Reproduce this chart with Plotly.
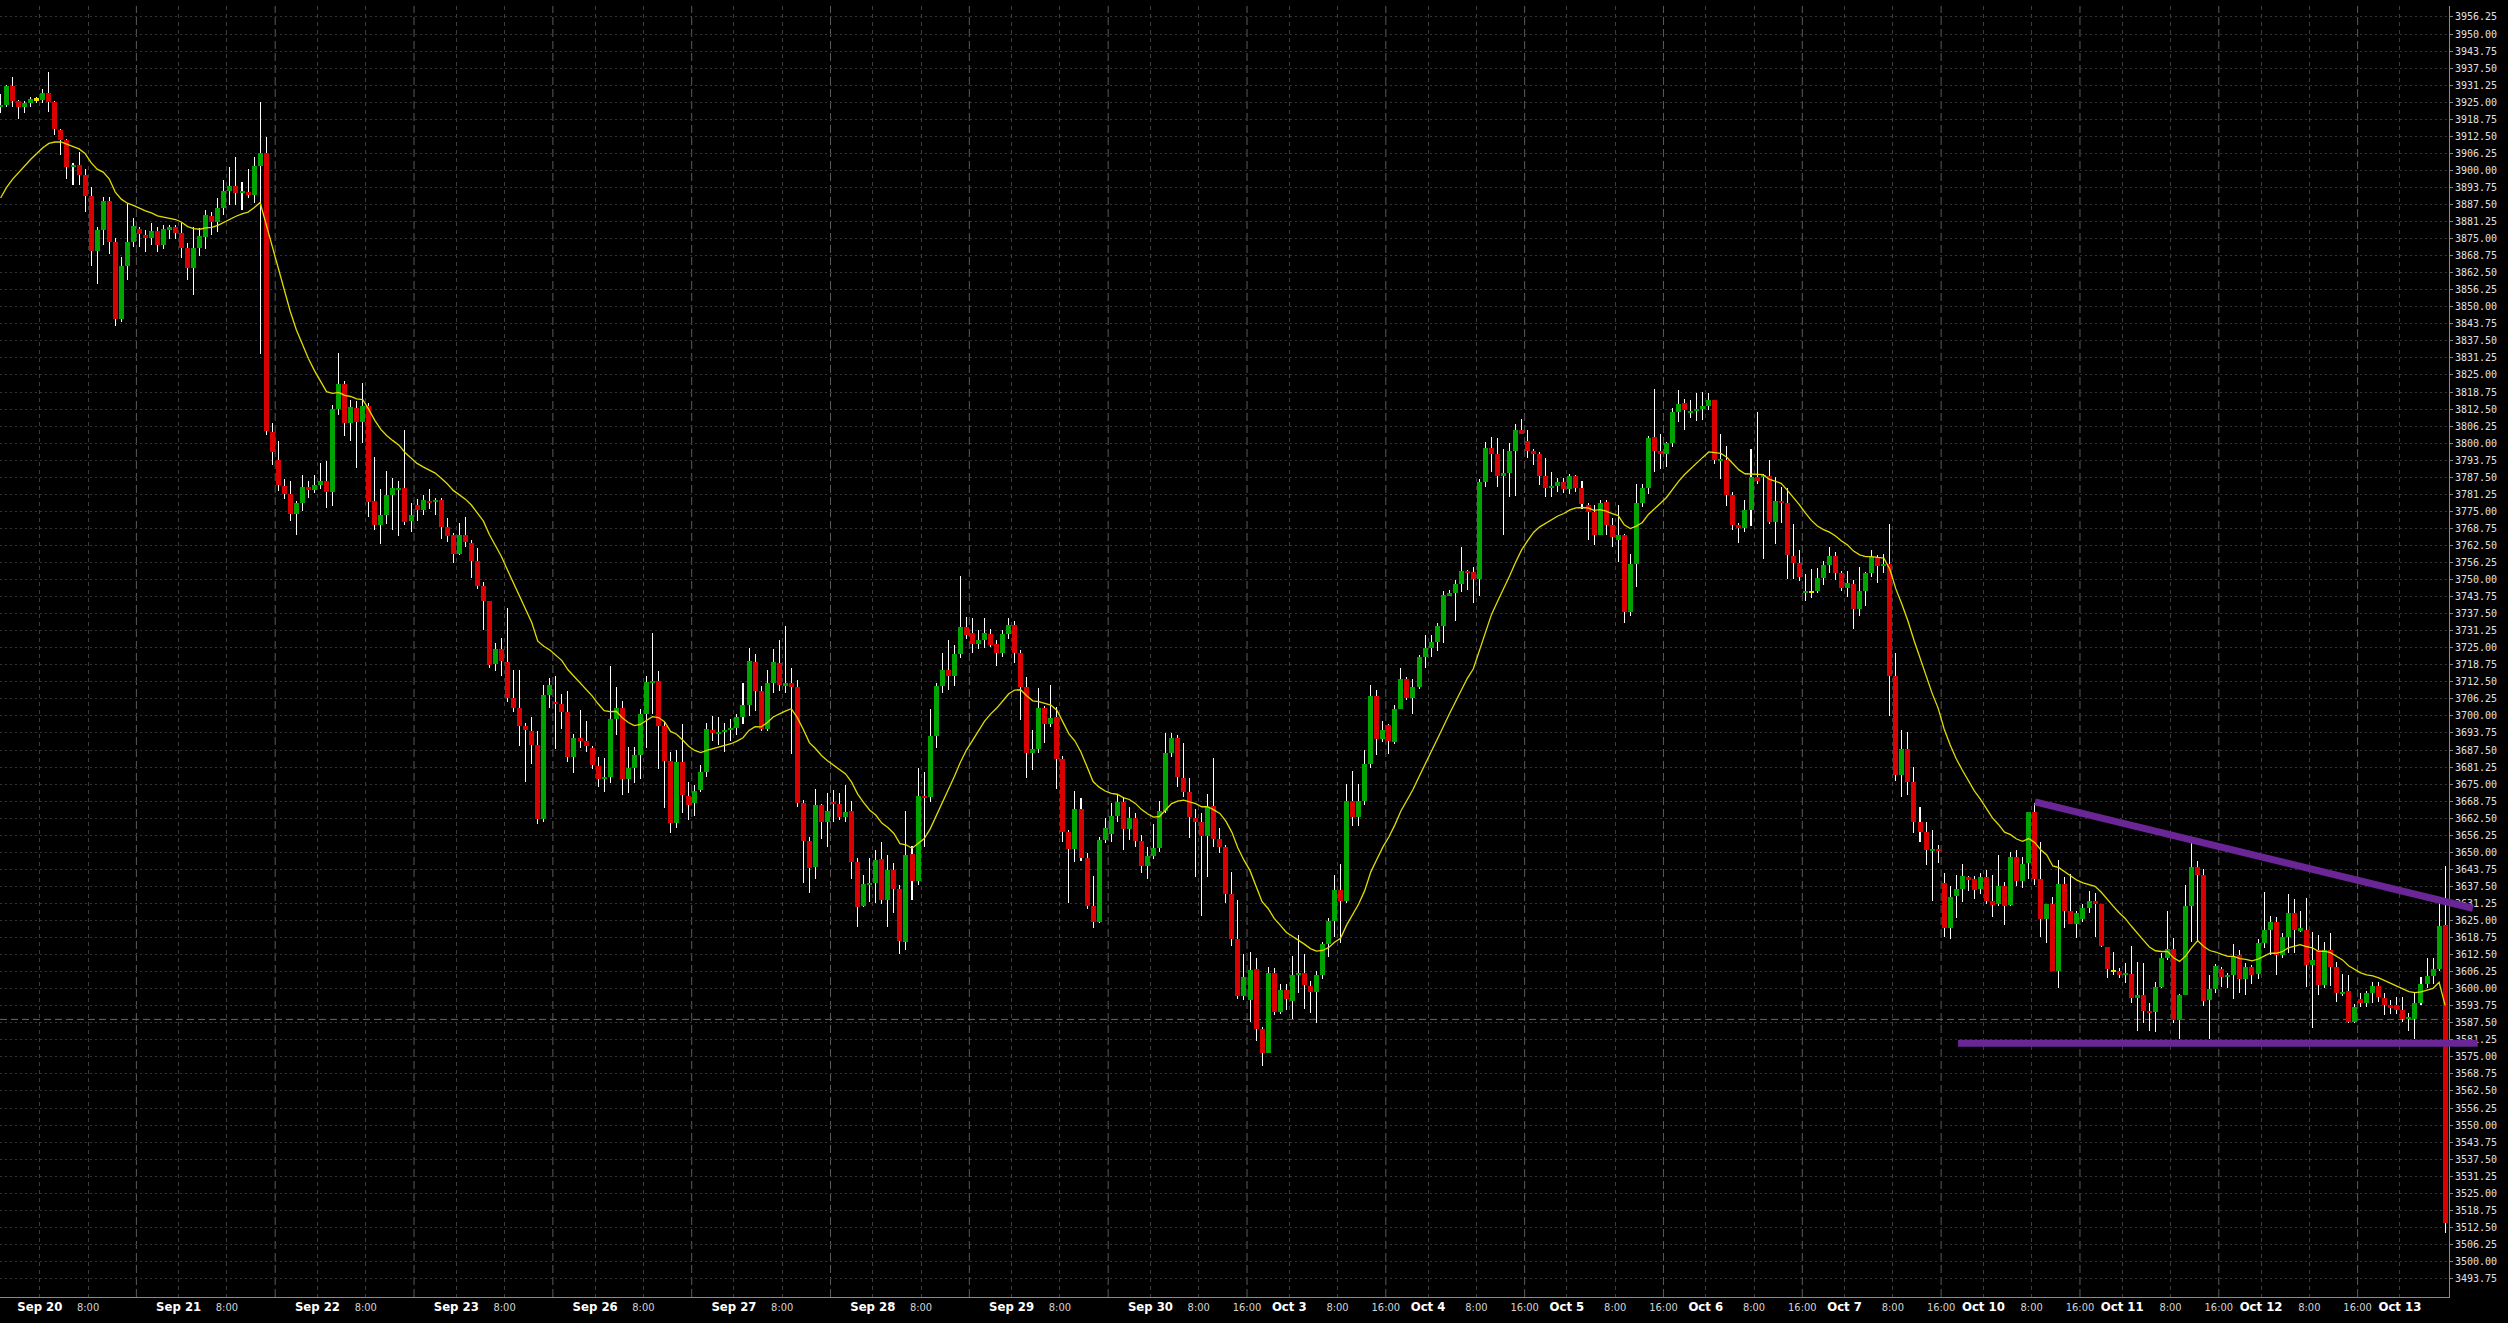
import plotly.graph_objects as go

# ---------------- data (hourly bars) ----------------
days = ['Sep 20', 'Sep 21', 'Sep 22', 'Sep 23', 'Sep 26', 'Sep 27', 'Sep 28', 'Sep 29', 'Sep 30',
        'Oct 3', 'Oct 4', 'Oct 5', 'Oct 6', 'Oct 7', 'Oct 10', 'Oct 11', 'Oct 12', 'Oct 13']
days_with_16h_label = days[8:]

opens = [
    3923.1, 3924.0, 3930.9, 3925.4, 3923.4, 3924.8, 3926.1, 3925.8, 3928.3, 3925.2,
    3914.8, 3911.2, 3901.4, 3902.0, 3898.3, 3890.7, 3870.4, 3878.1, 3888.8, 3873.9,
    3845.6, 3864.9, 3873.9, 3878.4, 3876.3, 3875.3, 3877.8, 3872.7, 3878.5, 3879.2,
    3877.1, 3871.7, 3864.3, 3871.7, 3875.7, 3883.4, 3881.2, 3886.3, 3892.5, 3894.3,
    3891.8, 3892.2, 3891.0, 3901.6, 3906.3, 3804.1, 3793.8, 3784.3, 3781.4, 3774.0,
    3778.0, 3784.0, 3783.0, 3784.5, 3786.3, 3782.2, 3812.4, 3821.7, 3807.4, 3813.0,
    3807.8, 3813.6, 3778.7, 3770.0, 3773.6, 3781.0, 3783.0, 3783.6, 3771.5, 3777.3,
    3775.4, 3778.9, 3778.5, 3779.1, 3769.2, 3766.5, 3759.4, 3766.5, 3763.4, 3756.8,
    3747.7, 3742.1, 3719.0, 3724.7, 3719.8, 3706.4, 3702.9, 3696.2, 3694.6, 3689.3,
    3662.4, 3707.6, 3705.1, 3704.4, 3701.4, 3685.0, 3691.8, 3690.8, 3688.4, 3681.6,
    3676.9, 3677.5, 3698.8, 3702.8, 3676.9, 3680.8, 3685.7, 3700.7, 3712.4, 3712.8,
    3696.4, 3683.5, 3660.6, 3683.2, 3670.8, 3668.2, 3672.8, 3679.6, 3694.8, 3693.6,
    3694.2, 3694.8, 3695.7, 3699.7, 3704.0, 3719.9, 3709.1, 3695.1, 3712.2, 3719.3,
    3711.3, 3711.9, 3710.5, 3668.2, 3654.1, 3644.7, 3667.3, 3661.2, 3668.5, 3667.9,
    3663.1, 3665.1, 3646.6, 3630.4, 3638.2, 3638.8, 3647.5, 3632.5, 3643.5, 3636.4,
    3617.2, 3649.3, 3639.6, 3670.6, 3670.4, 3692.6, 3711.0, 3716.8, 3714.6, 3722.7,
    3732.7, 3730.3, 3726.4, 3727.8, 3730.0, 3726.4, 3722.9, 3730.0, 3733.3, 3723.2,
    3710.7, 3686.3, 3687.9, 3703.0, 3696.9, 3699.5, 3684.2, 3657.6, 3651.2, 3665.9,
    3648.0, 3630.4, 3624.6, 3654.5, 3656.7, 3663.4, 3668.3, 3658.5, 3662.7, 3654.3,
    3645.0, 3648.6, 3651.7, 3665.1, 3686.3, 3691.8, 3677.1, 3672.2, 3662.7, 3661.2,
    3656.1, 3667.0, 3654.9, 3651.8, 3634.7, 3618.2, 3597.3, 3596.0, 3607.1, 3585.1,
    3576.5, 3605.6, 3591.3, 3599.5, 3595.6, 3605.2, 3605.6, 3601.1, 3598.9, 3605.0,
    3616.4, 3624.8, 3636.3, 3632.2, 3668.8, 3663.1, 3668.8, 3682.4, 3707.3, 3691.4,
    3696.6, 3690.6, 3702.4, 3713.5, 3706.6, 3710.6, 3721.7, 3724.9, 3727.1, 3732.8,
    3744.3, 3744.9, 3748.4, 3753.1, 3752.8, 3750.3, 3785.9, 3798.3, 3796.2, 3788.0,
    3789.1, 3797.0, 3804.8, 3800.7, 3797.0, 3796.2, 3788.0, 3783.4, 3784.4, 3785.9,
    3783.1, 3788.0, 3783.4, 3777.3, 3774.9, 3766.4, 3778.5, 3769.9, 3764.4, 3766.4,
    3738.1, 3755.6, 3778.2, 3783.6, 3802.2, 3797.0, 3796.2, 3799.9, 3811.4, 3814.6,
    3811.4, 3812.0, 3812.5, 3813.8, 3815.8, 3793.7, 3793.7, 3780.9, 3770.0, 3768.8,
    3775.4, 3787.5, 3787.5, 3788.0, 3771.1, 3778.7, 3778.2, 3758.8, 3756.2, 3745.4,
    3745.6, 3745.8, 3750.4, 3755.3, 3758.6, 3752.5, 3747.0, 3748.4, 3739.2, 3745.8,
    3752.5, 3758.1, 3755.1, 3755.7, 3714.8, 3678.3, 3687.7, 3675.9, 3661.2, 3657.6,
    3650.6, 3651.1, 3638.6, 3622.4, 3633.9, 3636.4, 3640.8, 3640.1, 3636.4, 3640.8,
    3632.1, 3630.9, 3637.6, 3630.7, 3648.2, 3639.6, 3646.2, 3664.9, 3640.1, 3625.4,
    3631.0, 3606.5, 3638.4, 3628.5, 3623.7, 3625.4, 3629.7, 3632.3, 3631.0, 3615.4,
    3606.6, 3606.6, 3605.0, 3605.4, 3596.5, 3597.7, 3591.9, 3591.5, 3600.7, 3611.1,
    3614.4, 3588.5, 3597.7, 3630.3, 3644.5, 3641.7, 3595.9, 3599.8, 3607.2, 3604.4,
    3605.0, 3612.3, 3603.4, 3607.8, 3605.4, 3616.9, 3621.5, 3624.6, 3612.3, 3619.1,
    3627.9, 3621.5, 3621.7, 3608.7, 3614.2, 3601.3, 3614.2, 3607.8, 3598.3, 3599.3,
    3587.9, 3596.2, 3594.9, 3598.3, 3601.0, 3596.5, 3594.0, 3594.0, 3592.2, 3589.1,
    3588.8, 3594.9, 3601.9, 3604.6, 3607.4, 3623.4,
]

highs = [
    3928.0, 3931.5, 3934.1, 3925.9, 3925.4, 3927.0, 3927.0, 3929.7, 3936.0, 3925.6,
    3915.2, 3911.6, 3902.6, 3906.6, 3900.5, 3894.0, 3879.4, 3890.4, 3890.4, 3875.1,
    3868.4, 3887.7, 3882.4, 3879.4, 3878.1, 3880.6, 3879.4, 3880.0, 3880.0, 3880.0,
    3880.6, 3873.3, 3879.4, 3878.8, 3885.5, 3884.9, 3890.0, 3896.5, 3901.4, 3904.8,
    3895.9, 3900.5, 3905.0, 3925.2, 3912.3, 3807.4, 3800.8, 3787.0, 3786.1, 3778.9,
    3788.2, 3786.0, 3788.2, 3792.8, 3793.4, 3814.0, 3833.1, 3822.9, 3815.7, 3815.5,
    3822.0, 3814.8, 3794.8, 3783.2, 3789.7, 3787.2, 3786.0, 3804.7, 3778.0, 3779.5,
    3781.0, 3783.2, 3779.8, 3779.8, 3772.7, 3767.1, 3770.8, 3773.0, 3764.4, 3761.5,
    3749.2, 3742.1, 3726.8, 3728.7, 3739.6, 3716.9, 3716.9, 3697.5, 3699.6, 3694.6,
    3711.3, 3713.8, 3714.8, 3707.9, 3709.1, 3693.4, 3702.1, 3698.1, 3689.0, 3685.1,
    3684.7, 3718.3, 3710.7, 3705.5, 3688.5, 3688.5, 3702.5, 3714.6, 3730.3, 3716.5,
    3697.9, 3686.9, 3687.5, 3697.0, 3675.9, 3674.7, 3682.0, 3697.5, 3700.1, 3699.7,
    3697.5, 3698.8, 3700.7, 3712.2, 3725.0, 3722.7, 3711.0, 3716.8, 3724.4, 3727.8,
    3733.0, 3717.4, 3713.2, 3669.2, 3655.7, 3673.2, 3667.9, 3671.6, 3672.8, 3671.6,
    3674.7, 3668.8, 3647.8, 3641.7, 3648.0, 3650.8, 3653.9, 3649.0, 3646.0, 3638.0,
    3665.3, 3652.3, 3680.8, 3679.6, 3702.5, 3712.2, 3722.9, 3727.8, 3726.0, 3751.3,
    3736.4, 3735.8, 3731.5, 3735.8, 3731.7, 3727.8, 3731.5, 3735.8, 3734.8, 3724.2,
    3714.1, 3694.8, 3710.1, 3703.6, 3711.3, 3703.4, 3685.3, 3658.2, 3672.5, 3669.8,
    3649.6, 3641.3, 3655.7, 3662.5, 3668.0, 3671.0, 3670.4, 3666.7, 3664.3, 3656.3,
    3652.1, 3660.4, 3668.9, 3693.9, 3693.9, 3693.0, 3689.9, 3677.1, 3665.8, 3664.3,
    3671.3, 3684.4, 3658.8, 3652.7, 3642.9, 3632.5, 3612.9, 3613.6, 3611.1, 3586.1,
    3607.8, 3607.5, 3601.9, 3601.7, 3612.0, 3619.7, 3612.9, 3602.9, 3606.6, 3617.2,
    3625.9, 3641.8, 3645.6, 3675.0, 3679.9, 3675.0, 3687.6, 3711.5, 3709.4, 3698.0,
    3697.1, 3704.0, 3717.6, 3714.3, 3713.5, 3722.5, 3729.5, 3729.5, 3734.0, 3745.9,
    3746.2, 3749.8, 3761.8, 3753.6, 3754.7, 3786.8, 3800.3, 3802.2, 3801.9, 3797.8,
    3799.9, 3807.1, 3808.8, 3804.8, 3797.8, 3796.6, 3794.5, 3789.3, 3787.2, 3787.2,
    3788.8, 3788.5, 3786.3, 3778.2, 3777.3, 3779.3, 3779.3, 3772.4, 3777.3, 3766.7,
    3759.3, 3785.2, 3785.2, 3802.7, 3819.9, 3803.5, 3800.6, 3813.0, 3819.6, 3816.3,
    3815.8, 3818.3, 3818.6, 3818.3, 3815.8, 3803.5, 3798.9, 3782.2, 3770.8, 3779.0,
    3797.8, 3811.4, 3788.8, 3793.7, 3787.5, 3783.9, 3783.6, 3770.5, 3761.0, 3752.0,
    3753.7, 3754.1, 3756.9, 3762.0, 3760.2, 3753.3, 3753.3, 3749.8, 3754.7, 3752.9,
    3760.8, 3759.0, 3759.4, 3770.4, 3723.2, 3694.8, 3694.2, 3681.4, 3666.7, 3661.2,
    3658.2, 3652.7, 3642.3, 3637.6, 3641.7, 3645.7, 3641.3, 3641.3, 3642.5, 3643.7,
    3641.7, 3649.0, 3639.2, 3650.2, 3650.8, 3648.2, 3664.9, 3668.2, 3653.9, 3631.0,
    3633.5, 3647.2, 3641.1, 3642.0, 3628.6, 3631.0, 3635.9, 3635.0, 3631.0, 3615.4,
    3613.6, 3607.5, 3609.5, 3615.6, 3609.9, 3609.5, 3594.6, 3602.6, 3613.0, 3628.6,
    3618.5, 3598.0, 3638.0, 3653.3, 3646.9, 3643.8, 3605.0, 3609.0, 3607.8, 3605.6,
    3616.4, 3614.2, 3609.5, 3608.7, 3618.1, 3635.5, 3626.6, 3626.4, 3620.3, 3634.7,
    3632.8, 3628.6, 3633.1, 3620.9, 3619.7, 3617.2, 3620.3, 3609.9, 3605.4, 3605.0,
    3594.4, 3598.3, 3599.1, 3602.6, 3602.6, 3598.3, 3595.9, 3596.8, 3597.1, 3591.0,
    3598.3, 3604.4, 3611.1, 3611.1, 3631.3, 3645.0,
]

lows = [
    3921.2, 3923.1, 3923.1, 3918.9, 3920.9, 3923.1, 3924.6, 3924.8, 3921.5, 3913.0,
    3905.6, 3896.9, 3894.6, 3894.6, 3884.6, 3865.0, 3858.4, 3872.7, 3869.4, 3843.0,
    3844.5, 3859.8, 3872.0, 3872.0, 3870.0, 3872.7, 3870.2, 3871.2, 3874.9, 3874.9,
    3868.0, 3859.8, 3854.3, 3868.7, 3871.2, 3876.3, 3877.5, 3883.7, 3887.3, 3887.3,
    3885.5, 3889.8, 3887.9, 3832.7, 3803.0, 3791.9, 3782.6, 3779.5, 3771.5, 3766.5,
    3775.2, 3779.9, 3781.6, 3783.2, 3776.2, 3777.0, 3810.5, 3802.5, 3800.8, 3790.9,
    3800.0, 3773.0, 3768.1, 3763.0, 3770.2, 3768.1, 3766.1, 3770.0, 3767.5, 3771.5,
    3773.7, 3775.8, 3773.6, 3764.7, 3763.7, 3756.2, 3759.1, 3761.9, 3750.4, 3746.7,
    3731.4, 3717.5, 3716.5, 3714.8, 3705.1, 3701.4, 3689.0, 3675.8, 3682.5, 3660.3,
    3661.1, 3703.0, 3687.8, 3695.2, 3683.1, 3679.1, 3688.4, 3686.6, 3680.4, 3673.9,
    3672.2, 3675.5, 3693.0, 3671.0, 3671.6, 3675.5, 3676.9, 3688.1, 3700.6, 3680.5,
    3666.1, 3657.2, 3659.0, 3664.3, 3661.8, 3663.4, 3672.0, 3677.7, 3690.8, 3689.3,
    3686.9, 3690.8, 3693.0, 3697.0, 3700.0, 3701.9, 3694.6, 3694.5, 3708.3, 3709.3,
    3708.3, 3686.0, 3666.7, 3638.6, 3635.2, 3640.1, 3654.9, 3652.1, 3661.2, 3661.8,
    3661.2, 3640.1, 3622.7, 3630.1, 3631.9, 3631.5, 3631.0, 3622.7, 3627.9, 3612.7,
    3614.2, 3632.5, 3638.0, 3652.1, 3668.6, 3688.4, 3708.5, 3709.5, 3711.0, 3721.1,
    3728.2, 3723.2, 3724.4, 3724.8, 3725.2, 3718.3, 3721.7, 3728.1, 3719.3, 3698.5,
    3677.1, 3680.2, 3686.3, 3690.2, 3696.1, 3673.2, 3653.9, 3631.3, 3646.6, 3646.8,
    3629.4, 3622.1, 3624.0, 3653.3, 3653.9, 3661.2, 3650.8, 3654.5, 3651.8, 3642.5,
    3640.1, 3647.6, 3650.2, 3664.5, 3685.1, 3674.1, 3670.2, 3655.4, 3640.8, 3626.6,
    3640.8, 3652.1, 3649.6, 3631.3, 3615.6, 3596.1, 3595.9, 3587.9, 3580.9, 3571.6,
    3576.3, 3590.3, 3590.7, 3592.2, 3588.8, 3598.3, 3592.4, 3591.0, 3587.3, 3603.4,
    3611.7, 3618.9, 3616.9, 3631.3, 3659.5, 3659.5, 3667.4, 3681.0, 3685.7, 3690.3,
    3686.0, 3689.8, 3702.4, 3705.7, 3700.7, 3709.9, 3717.6, 3721.7, 3723.7, 3726.9,
    3743.8, 3734.8, 3745.4, 3746.2, 3741.3, 3744.1, 3783.9, 3789.6, 3783.9, 3766.2,
    3780.3, 3780.6, 3803.2, 3794.5, 3792.1, 3784.7, 3780.1, 3780.3, 3782.2, 3781.9,
    3781.4, 3782.2, 3776.0, 3764.6, 3762.6, 3766.2, 3766.2, 3761.8, 3756.4, 3733.9,
    3736.7, 3747.1, 3776.5, 3781.4, 3789.6, 3790.4, 3791.2, 3798.6, 3807.6, 3804.8,
    3809.3, 3808.1, 3808.4, 3812.0, 3792.4, 3786.8, 3777.0, 3768.3, 3763.4, 3767.5,
    3769.5, 3785.0, 3757.7, 3770.5, 3762.9, 3770.8, 3750.3, 3750.3, 3749.6, 3742.3,
    3743.1, 3744.9, 3748.0, 3752.5, 3749.8, 3745.9, 3743.7, 3731.9, 3736.8, 3740.3,
    3750.8, 3748.8, 3752.3, 3699.9, 3676.2, 3670.4, 3671.0, 3657.2, 3653.9, 3645.3,
    3632.3, 3646.2, 3619.1, 3618.1, 3626.0, 3631.9, 3635.9, 3632.9, 3634.9, 3630.9,
    3626.4, 3630.3, 3623.3, 3630.3, 3637.6, 3636.8, 3640.1, 3638.0, 3619.1, 3616.6,
    3606.5, 3600.1, 3622.1, 3623.7, 3618.5, 3624.5, 3627.9, 3619.1, 3615.4, 3603.8,
    3605.0, 3603.8, 3602.0, 3594.9, 3584.6, 3587.3, 3584.6, 3584.2, 3600.1, 3610.5,
    3587.3, 3581.4, 3597.7, 3617.2, 3617.6, 3593.6, 3581.4, 3598.3, 3600.7, 3600.1,
    3596.1, 3598.3, 3597.7, 3601.9, 3603.4, 3614.8, 3612.3, 3605.0, 3611.1, 3613.0,
    3613.0, 3620.9, 3600.7, 3585.5, 3597.7, 3600.1, 3601.0, 3595.2, 3597.3, 3587.3,
    3587.3, 3593.2, 3593.4, 3594.6, 3595.2, 3590.4, 3590.9, 3590.9, 3587.9, 3584.6,
    3581.4, 3594.0, 3600.1, 3601.7, 3606.6, 3510.4,
]

closes = [
    3924.0, 3930.9, 3925.4, 3923.4, 3924.8, 3926.2, 3926.1, 3928.3, 3925.2, 3915.2,
    3911.2, 3901.4, 3902.0, 3898.3, 3890.7, 3870.4, 3878.1, 3888.8, 3873.9, 3845.6,
    3864.9, 3873.9, 3879.6, 3876.7, 3875.3, 3877.8, 3872.7, 3878.4, 3879.2, 3877.1,
    3871.7, 3864.3, 3871.7, 3876.0, 3883.6, 3881.2, 3886.3, 3892.5, 3894.3, 3891.8,
    3892.4, 3891.0, 3901.6, 3906.3, 3804.3, 3796.9, 3784.5, 3781.4, 3774.2, 3778.0,
    3784.0, 3783.0, 3784.5, 3786.0, 3782.2, 3812.4, 3821.7, 3807.4, 3813.2, 3807.8,
    3813.6, 3778.3, 3770.0, 3773.6, 3781.0, 3783.6, 3783.6, 3771.2, 3773.6, 3775.4,
    3779.1, 3778.3, 3779.1, 3769.2, 3766.1, 3759.4, 3766.5, 3763.7, 3756.8, 3747.7,
    3742.1, 3718.8, 3724.6, 3720.0, 3706.4, 3702.9, 3696.2, 3694.9, 3689.3, 3662.4,
    3707.6, 3711.3, 3704.4, 3701.4, 3685.0, 3691.8, 3690.8, 3688.8, 3681.9, 3676.9,
    3677.6, 3698.8, 3702.8, 3676.9, 3680.8, 3685.7, 3700.7, 3712.4, 3712.8, 3696.4,
    3683.5, 3660.6, 3683.2, 3671.0, 3667.3, 3672.6, 3679.6, 3695.2, 3693.6, 3694.2,
    3694.8, 3695.7, 3699.7, 3704.0, 3720.1, 3709.1, 3695.1, 3712.2, 3719.6, 3711.3,
    3711.9, 3710.7, 3668.2, 3654.1, 3644.4, 3667.3, 3661.2, 3665.3, 3667.7, 3663.1,
    3664.7, 3646.6, 3630.1, 3638.4, 3638.8, 3647.2, 3632.5, 3643.5, 3636.4, 3617.5,
    3649.0, 3639.6, 3670.6, 3670.2, 3692.6, 3711.0, 3716.8, 3714.6, 3722.7, 3732.7,
    3729.7, 3726.4, 3727.8, 3730.3, 3726.0, 3722.9, 3730.0, 3733.3, 3723.2, 3710.7,
    3686.3, 3687.9, 3703.0, 3696.9, 3699.1, 3684.2, 3657.6, 3651.2, 3665.9, 3648.0,
    3630.4, 3624.6, 3654.5, 3658.8, 3663.4, 3668.3, 3658.5, 3662.7, 3654.3, 3645.1,
    3648.6, 3651.5, 3665.1, 3686.3, 3691.8, 3677.7, 3672.2, 3662.8, 3661.2, 3656.1,
    3666.7, 3654.9, 3651.8, 3634.7, 3618.2, 3597.3, 3604.4, 3606.8, 3585.1, 3576.5,
    3605.6, 3591.6, 3599.5, 3596.1, 3605.2, 3605.6, 3601.3, 3598.9, 3605.0, 3616.4,
    3624.8, 3636.3, 3632.2, 3668.8, 3663.1, 3668.8, 3682.4, 3707.3, 3691.4, 3694.7,
    3690.9, 3702.4, 3713.5, 3706.6, 3710.6, 3721.7, 3724.9, 3727.1, 3732.8, 3744.3,
    3744.9, 3748.4, 3753.1, 3752.5, 3750.3, 3785.9, 3798.3, 3796.2, 3788.0, 3789.1,
    3797.0, 3804.8, 3803.5, 3797.0, 3796.3, 3788.0, 3783.4, 3784.4, 3785.9, 3783.1,
    3788.0, 3783.4, 3777.7, 3774.9, 3766.4, 3778.2, 3769.9, 3765.6, 3766.4, 3738.1,
    3755.6, 3778.2, 3783.6, 3801.9, 3797.0, 3796.2, 3799.9, 3811.4, 3814.2, 3812.0,
    3811.7, 3812.5, 3813.8, 3815.8, 3793.7, 3794.2, 3780.9, 3770.0, 3768.8, 3775.4,
    3787.5, 3786.3, 3788.5, 3771.1, 3778.7, 3778.2, 3758.9, 3756.2, 3751.0, 3745.8,
    3745.6, 3750.4, 3755.3, 3758.6, 3752.5, 3747.0, 3748.6, 3739.2, 3745.8, 3752.5,
    3758.4, 3755.1, 3755.7, 3714.8, 3678.3, 3687.7, 3675.9, 3661.2, 3657.6, 3650.8,
    3651.1, 3650.6, 3622.4, 3633.5, 3636.4, 3641.3, 3640.1, 3636.2, 3640.8, 3632.1,
    3630.7, 3637.6, 3630.3, 3648.2, 3639.6, 3645.7, 3664.9, 3640.1, 3625.4, 3631.0,
    3606.5, 3638.4, 3628.6, 3623.7, 3627.9, 3629.7, 3632.3, 3631.0, 3615.8, 3607.1,
    3606.6, 3605.0, 3605.9, 3596.5, 3597.7, 3591.9, 3591.2, 3600.7, 3611.1, 3614.4,
    3588.5, 3597.7, 3630.3, 3644.5, 3641.7, 3595.6, 3599.8, 3608.3, 3604.4, 3605.0,
    3611.7, 3603.4, 3607.8, 3605.0, 3616.9, 3621.5, 3624.6, 3612.3, 3619.1, 3627.9,
    3621.5, 3622.1, 3608.7, 3610.5, 3601.3, 3614.2, 3608.1, 3598.3, 3598.9, 3587.9,
    3593.4, 3594.9, 3598.3, 3601.0, 3596.8, 3594.0, 3592.8, 3592.2, 3588.8, 3589.4,
    3594.9, 3601.9, 3604.6, 3607.1, 3623.0, 3514.0,
]

ma_period = 20           # exponential moving average
ma_first_value = 3889.9  # MA value at the first visible bar
bid_price = 3588.75

trend_upper_bar = [337.05, 409.6]
trend_upper_price = [3668.5, 3629.5]
support_bar = [324.3, 410.4]
support_price = 3580.0

price_ticks_from = 3493.75
price_ticks_to = 3956.25
price_tick_step = 6.25

# ---------------- styling constants ----------------
BARS_PER_DAY = 23
FIRST_MIDNIGHT = 6.5
X_RANGE = [-0.094, 405.64]
Y_RANGE = [3486.97, 3960.28]
GREEN = '#00a400'
RED = '#d80000'
YELLOW = '#e8e400'
MA_COLOR = '#e0dc00'
PURPLE = '#6a2596'
PX_PER_BAR = 2449.0 / (X_RANGE[1] - X_RANGE[0])
BODY_W = 5.0 / PX_PER_BAR
WICK_W = 0.03 / PX_PER_BAR   # plotly widens hair-thin bars to one whole pixel
MIN_BODY = 0.6   # minimal drawn body height (price units) so dojis stay visible

n = len(closes)
x = list(range(n))

# EMA
alpha = 2.0 / (ma_period + 1)
ma = [ma_first_value]
for c in closes[1:]:
    ma.append(ma[-1] + alpha * (c - ma[-1]))

body_base, body_len, body_col = [], [], []
for o, c in zip(opens, closes):
    lo, hi = min(o, c), max(o, c)
    if hi - lo < MIN_BODY:
        mid = (hi + lo) / 2.0
        lo, hi = mid - MIN_BODY / 2.0, mid + MIN_BODY / 2.0
    body_base.append(lo)
    body_len.append(hi - lo)
    body_col.append(GREEN if c > o else (RED if c < o else YELLOW))

wick_len = [h - l for h, l in zip(highs, lows)]

# ticks / gridlines
tickvals, ticktext, gridvals, brightvals = [], [], [], []
for d, name in enumerate(days):
    m = FIRST_MIDNIGHT + BARS_PER_DAY * d
    if m <= n - 1:
        tickvals.append(m)
        ticktext.append('<b><span style="font-size:13px;color:#ffffff">%s</span></b>' % name)
        gridvals.append(m)
    if m + 8 <= n - 1:
        tickvals.append(m + 8)
        ticktext.append('8:00')
        gridvals.append(m + 8)
    if m + 16 <= n - 1:
        brightvals.append(m + 16)
        if name in days_with_16h_label:
            tickvals.append(m + 16)
            ticktext.append('16:00')

ytickvals = []
v = price_ticks_from
while v <= price_ticks_to + 1e-9:
    ytickvals.append(v)
    v += price_tick_step

fig = go.Figure()
fig.add_trace(go.Bar(x=x, y=wick_len, base=lows, width=WICK_W,
                     marker=dict(color='#ffffff', line=dict(width=0)),
                     hoverinfo='skip', showlegend=False))
fig.add_trace(go.Bar(x=x, y=body_len, base=body_base, width=BODY_W,
                     marker=dict(color=body_col, line=dict(width=0)),
                     hoverinfo='skip', showlegend=False))
fig.add_trace(go.Scatter(x=x, y=ma, mode='lines', line=dict(color=MA_COLOR, width=1.3),
                         hoverinfo='skip', showlegend=False))


def px_x(val):
    return (val - X_RANGE[0]) / (X_RANGE[1] - X_RANGE[0])


def px_y(val):
    return (val - Y_RANGE[0]) / (Y_RANGE[1] - Y_RANGE[0])


shapes = []
for b in brightvals:
    shapes.append(dict(type='line', xref='x', yref='paper', x0=b, x1=b, y0=0, y1=1,
                       line=dict(color='#5a5a5a', width=1, dash='8px,4px'), layer='between'))
shapes.append(dict(type='line', xref='paper', yref='y', x0=0, x1=1, y0=bid_price, y1=bid_price,
                   line=dict(color='#6a6a6a', width=1, dash='7px,4px'), layer='between'))
shapes.append(dict(type='line', xref='paper', yref='paper',
                   x0=px_x(trend_upper_bar[0]), x1=px_x(trend_upper_bar[1]),
                   y0=px_y(trend_upper_price[0]), y1=px_y(trend_upper_price[1]),
                   line=dict(color=PURPLE, width=7), layer='above'))
shapes.append(dict(type='line', xref='paper', yref='paper',
                   x0=px_x(support_bar[0]), x1=px_x(support_bar[1]),
                   y0=px_y(support_price), y1=px_y(support_price),
                   line=dict(color=PURPLE, width=7), layer='above'))

fig.update_layout(
    width=2508, height=1323,
    paper_bgcolor='#000000', plot_bgcolor='#000000',
    margin=dict(l=0, r=59, t=6, b=26, pad=0),
    showlegend=False, hovermode=False,
    barmode='overlay',
    shapes=shapes,
    xaxis=dict(
        range=X_RANGE,
        tickmode='array', tickvals=tickvals, ticktext=ticktext,
        showgrid=False, zeroline=False, showline=True, linecolor='#8a8a8a', linewidth=1,
        ticks='', tickfont=dict(family='DejaVu Sans Condensed, Liberation Sans Narrow, DejaVu Sans',
                                size=11, color='#d4d4d4'),
        minor=dict(tickmode='array', tickvals=gridvals, showgrid=True, gridcolor='#3c3c3c',
                   griddash='4px,4px', gridwidth=1, ticks=''),
        fixedrange=True,
    ),
    yaxis=dict(
        side='right', range=Y_RANGE,
        tickmode='array', tickvals=ytickvals, ticktext=['%.2f' % t for t in ytickvals],
        showgrid=True, gridcolor='#333333', griddash='2px,3px', gridwidth=1,
        zeroline=False, showline=True, linecolor='#8a8a8a', linewidth=1,
        ticks='outside', ticklen=3, tickcolor='#8a8a8a',
        tickfont=dict(family='DejaVu Sans Mono', size=10, color='#e0e0e0'),
        fixedrange=True,
    ),
)

page_fix = (
    "document.body.style.margin='0';document.body.style.padding='0';"
    "document.body.style.overflow='hidden';"
    "var st=document.createElement('style');"
    "st.innerHTML='.barlayer path{shape-rendering:crispEdges !important;}';"
    "document.head.appendChild(st);"
)

fig.write_html('out.html', post_script=page_fix, config={'displayModeBar': False})
